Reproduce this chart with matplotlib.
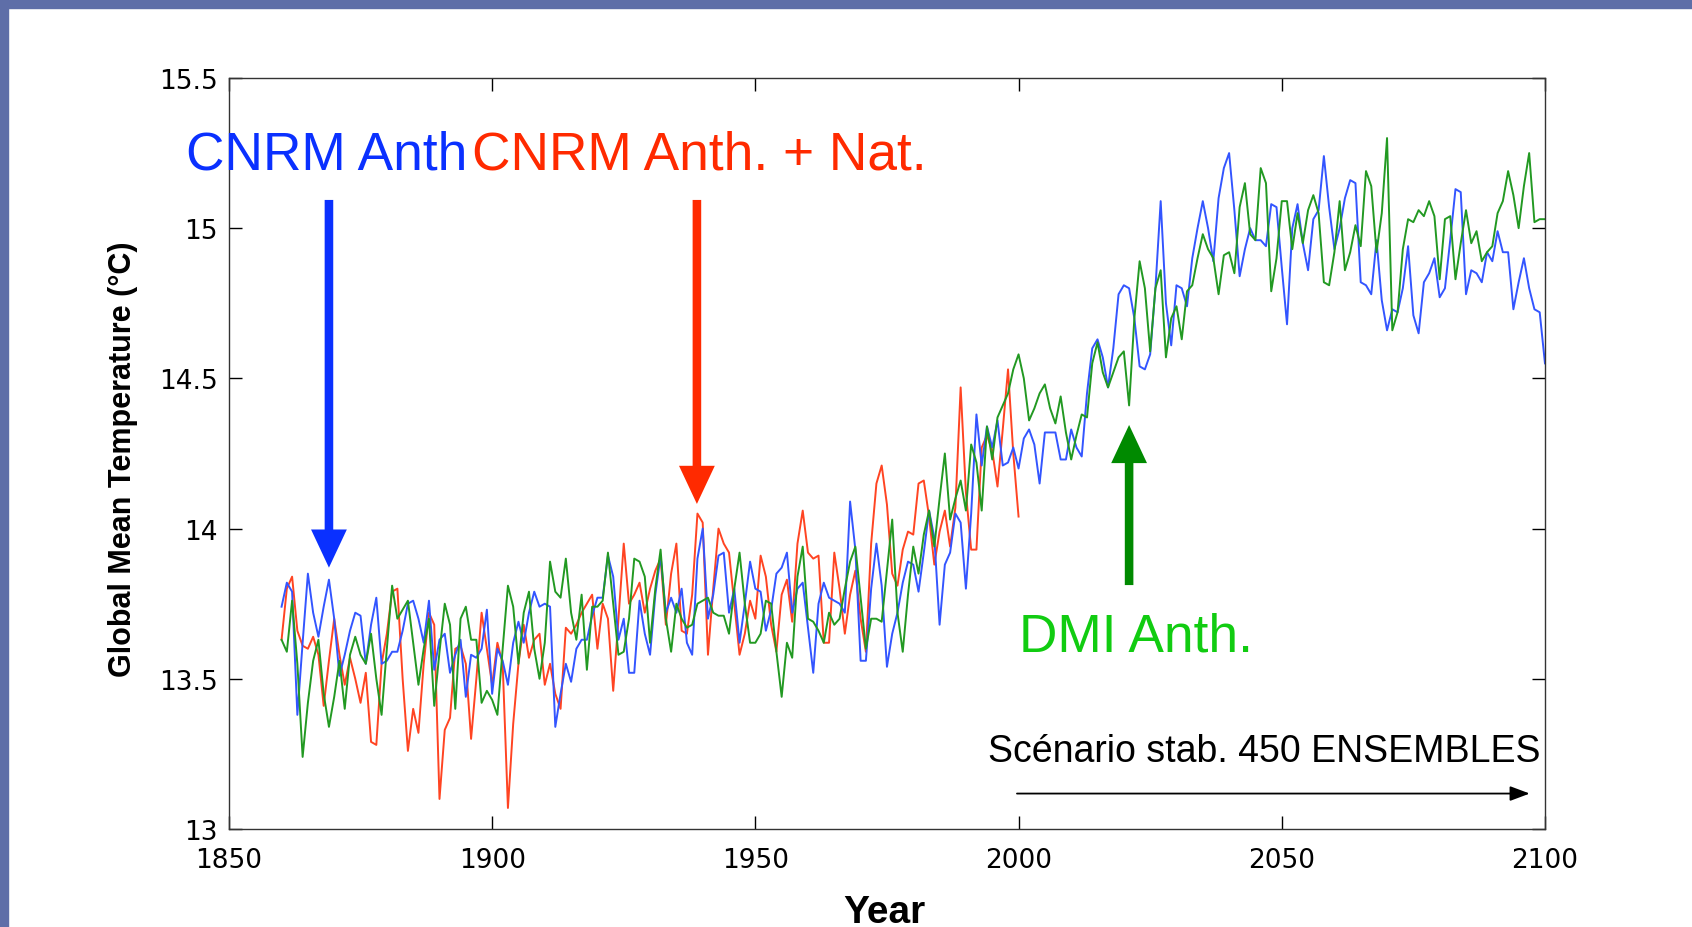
import numpy as np
import matplotlib.pyplot as plt
from matplotlib.patches import Rectangle

# Annual global mean temperature (deg C)
cnrm_anth = [
    13.74, 13.82, 13.79, 13.38, 13.62, 13.85, 13.72, 13.64, 13.74, 13.83,
    13.70, 13.51, 13.58, 13.66, 13.72, 13.71, 13.55, 13.68, 13.77, 13.55,
    13.56, 13.59, 13.59, 13.66, 13.75, 13.76, 13.70, 13.62, 13.76, 13.53,
    13.63, 13.65, 13.52, 13.58, 13.63, 13.44, 13.58, 13.57, 13.60, 13.73,
    13.45, 13.60, 13.56, 13.48, 13.62, 13.69, 13.62, 13.72, 13.79, 13.74,
    13.75, 13.74, 13.34, 13.45, 13.55, 13.49, 13.60, 13.63, 13.63, 13.71,
    13.77, 13.77, 13.91, 13.84, 13.63, 13.70, 13.52, 13.52, 13.76, 13.65,
    13.58, 13.78, 13.91, 13.72, 13.77, 13.72, 13.80, 13.62, 13.58, 13.90,
    14.00, 13.70, 13.78, 13.91, 13.92, 13.72, 13.80, 13.62, 13.75, 13.89,
    13.80, 13.79, 13.66, 13.73, 13.85, 13.87, 13.92, 13.72, 13.80, 13.82,
    13.67, 13.52, 13.75, 13.82, 13.77, 13.76, 13.75, 13.72, 14.09, 13.93,
    13.56, 13.56, 13.80, 13.95, 13.81, 13.54, 13.65, 13.72, 13.82, 13.89,
    13.88, 13.79, 13.92, 14.06, 13.97, 13.68, 13.88, 13.92, 14.05, 14.02,
    13.80, 14.05, 14.38, 14.21, 14.34, 14.27, 14.36, 14.21, 14.22, 14.27,
    14.20, 14.30, 14.33, 14.28, 14.15, 14.32, 14.32, 14.32, 14.23, 14.23,
    14.33, 14.27, 14.24, 14.45, 14.60, 14.63, 14.57, 14.47, 14.60, 14.78,
    14.81, 14.80, 14.70, 14.54, 14.53, 14.58, 14.80, 15.09, 14.75, 14.61,
    14.81, 14.80, 14.74, 14.90, 15.00, 15.09, 15.00, 14.89, 15.10, 15.20,
    15.25, 15.06, 14.84, 14.93, 15.00, 14.96, 14.96, 14.94, 15.08, 15.07,
    14.87, 14.68, 15.00, 15.08, 14.95, 14.86, 15.03, 15.06, 15.24, 15.07,
    14.93, 15.00, 15.10, 15.16, 15.15, 14.82, 14.81, 14.78, 14.96, 14.76,
    14.66, 14.73, 14.72, 14.80, 14.94, 14.71, 14.65, 14.82, 14.85, 14.90,
    14.77, 14.80, 14.96, 15.13, 15.12, 14.78, 14.86, 14.85, 14.82, 14.92,
    14.89, 14.99, 14.92, 14.92, 14.73, 14.82, 14.90, 14.80, 14.73, 14.72,
    14.55,
]

cnrm_anth_nat = [
    13.63, 13.80, 13.84, 13.66, 13.61, 13.60, 13.64, 13.58, 13.41, 13.56,
    13.70, 13.58, 13.48, 13.57, 13.50, 13.42, 13.52, 13.29, 13.28, 13.55,
    13.65, 13.79, 13.80, 13.50, 13.26, 13.40, 13.32, 13.55, 13.72, 13.68,
    13.10, 13.33, 13.37, 13.60, 13.61, 13.55, 13.30, 13.50, 13.72, 13.60,
    13.48, 13.62, 13.55, 13.07, 13.35, 13.55, 13.68, 13.57, 13.63, 13.65,
    13.48, 13.55, 13.45, 13.40, 13.67, 13.65, 13.68, 13.72, 13.75, 13.78,
    13.60, 13.75, 13.70, 13.46, 13.70, 13.95, 13.75, 13.78, 13.82, 13.72,
    13.80, 13.86, 13.90, 13.68, 13.85, 13.95, 13.66, 13.65, 13.78, 14.05,
    14.02, 13.58, 13.80, 14.00, 13.95, 13.92, 13.75, 13.58, 13.65, 13.76,
    13.70, 13.91, 13.84, 13.68, 13.59, 13.78, 13.83, 13.69, 13.95, 14.06,
    13.92, 13.90, 13.91, 13.62, 13.62, 13.92, 13.80, 13.65, 13.78, 13.86,
    13.70, 13.59, 13.95, 14.15, 14.21, 14.08, 13.85, 13.81, 13.93, 13.99,
    13.98, 14.15, 14.16, 14.04, 13.88, 13.99, 14.06, 13.94, 14.07, 14.47,
    14.12, 13.93, 13.93, 14.27, 14.31, 14.26, 14.14, 14.33, 14.53, 14.25,
    14.04,
]

dmi_anth = [
    13.63, 13.59, 13.76, 13.55, 13.24, 13.42, 13.56, 13.63, 13.45, 13.34,
    13.44, 13.56, 13.40, 13.58, 13.64, 13.58, 13.55, 13.65, 13.50, 13.38,
    13.60, 13.81, 13.70, 13.73, 13.76, 13.62, 13.48, 13.60, 13.70, 13.41,
    13.59, 13.75, 13.68, 13.40, 13.70, 13.74, 13.63, 13.63, 13.42, 13.46,
    13.43, 13.38, 13.60, 13.81, 13.74, 13.55, 13.72, 13.79, 13.60, 13.50,
    13.62, 13.89, 13.79, 13.77, 13.90, 13.72, 13.63, 13.78, 13.53, 13.74,
    13.74, 13.76, 13.92, 13.75, 13.58, 13.59, 13.70, 13.90, 13.89, 13.84,
    13.62, 13.80, 13.93, 13.70, 13.59, 13.75, 13.70, 13.67, 13.68, 13.75,
    13.76, 13.77, 13.72, 13.71, 13.71, 13.65, 13.80, 13.92, 13.75, 13.62,
    13.62, 13.65, 13.76, 13.75, 13.59, 13.44, 13.62, 13.57, 13.84, 13.94,
    13.70, 13.69, 13.66, 13.62, 13.72, 13.68, 13.70, 13.80, 13.89, 13.94,
    13.77, 13.60, 13.70, 13.70, 13.69, 13.86, 14.03, 13.72, 13.59, 13.78,
    13.94, 13.85, 13.98, 14.06, 13.94, 14.10, 14.25, 14.03, 14.10, 14.16,
    14.06, 14.28, 14.22, 14.06, 14.34, 14.23, 14.37, 14.41, 14.45, 14.53,
    14.58, 14.50, 14.36, 14.40, 14.45, 14.48, 14.40, 14.35, 14.44, 14.32,
    14.23, 14.31, 14.38, 14.37, 14.55, 14.62, 14.52, 14.47, 14.52, 14.57,
    14.59, 14.41, 14.70, 14.89, 14.80, 14.59, 14.80, 14.86, 14.57, 14.70,
    14.74, 14.63, 14.79, 14.81, 14.90, 14.98, 14.93, 14.90, 14.78, 14.91,
    14.92, 14.85, 15.07, 15.15, 14.98, 14.96, 15.20, 15.15, 14.79, 14.90,
    15.09, 15.09, 14.93, 15.05, 14.95, 15.06, 15.11, 15.05, 14.82, 14.81,
    14.92, 15.09, 14.86, 14.92, 15.01, 14.94, 15.19, 15.14, 14.92, 15.05,
    15.30, 14.66, 14.72, 14.93, 15.03, 15.02, 15.06, 15.04, 15.09, 15.04,
    14.83, 15.03, 15.04, 14.83, 14.95, 15.06, 14.95, 14.99, 14.89, 14.92,
    14.94, 15.05, 15.09, 15.19, 15.11, 15.00, 15.14, 15.25, 15.02, 15.03,
    15.03,
]

years_full = np.arange(1860, 1860 + len(cnrm_anth))
years_hist = np.arange(1860, 1860 + len(cnrm_anth_nat))

x_ticks = [1850, 1900, 1950, 2000, 2050, 2100]
y_ticks = [13, 13.5, 14, 14.5, 15, 15.5]
y_tick_labels = ['13', '13.5', '14', '14.5', '15', '15.5']

fig = plt.figure(figsize=(16.92, 9.28), dpi=100, facecolor='white')
ax = fig.add_axes([0.1353, 0.1056, 0.7778, 0.8093])

# slide frame (top and left bands)
frame_col = '#5E6EA8'
fig.patches.append(Rectangle((0, 1 - 9 / 928), 1, 9 / 928, transform=fig.transFigure,
                             color=frame_col, zorder=0))
fig.patches.append(Rectangle((0, 0), 8 / 1692, 1, transform=fig.transFigure,
                             color=frame_col, zorder=0))

ax.plot(years_hist, cnrm_anth_nat, color='#FF4422', lw=1.4)
ax.plot(years_full, cnrm_anth, color='#3355FF', lw=1.4)
ax.plot(years_full, dmi_anth, color='#229922', lw=1.4)

ax.set_xlim(1850, 2100)
ax.set_ylim(13, 15.5)
ax.set_xticks(x_ticks)
ax.set_yticks(y_ticks)
ax.set_yticklabels(y_tick_labels)
ax.tick_params(direction='in', length=9.5, width=1, top=True, right=True,
               labelsize=19)
ax.tick_params(axis='x', pad=13)
ax.tick_params(axis='y', pad=8)
for lab in ax.get_xticklabels() + ax.get_yticklabels():
    lab.set_family('DejaVu Sans')
for sp in ax.spines.values():
    sp.set_linewidth(1)
    sp.set_color('#333333')

ax.set_ylabel('Global Mean Temperature (°C)', family='Liberation Sans',
              fontweight='bold', fontsize=22)
ax.yaxis.set_label_coords(-0.069, 0.494)
ax.set_xlabel('Year', family='Liberation Sans', fontweight='bold', fontsize=28)
ax.xaxis.set_label_coords(0.498, -0.087)

# labels for the runs
ax.text(1841.8, 15.20, 'CNRM Anth', color='#0A30FF', fontsize=38.3,
        family='Liberation Sans', va='baseline', clip_on=False)
ax.text(1896.2, 15.20, 'CNRM Anth. + Nat.', color='#FF2A00', fontsize=38.3,
        family='Liberation Sans', va='baseline')
ax.text(2000.0, 13.593, 'DMI Anth.', color='#11CC11', fontsize=38.3,
        family='Liberation Sans', va='baseline')

# pointing arrows
ax.arrow(1869.0, 15.094, 0, 13.87 - 15.094, width=1.63, head_width=6.8,
         head_length=0.127, length_includes_head=True, color='#0A30FF', lw=0)
ax.arrow(1938.9, 15.094, 0, 14.082 - 15.094, width=1.63, head_width=6.8,
         head_length=0.127, length_includes_head=True, color='#FF2A00', lw=0)
ax.arrow(2021.0, 13.812, 0, 14.345 - 13.812, width=1.63, head_width=6.8,
         head_length=0.127, length_includes_head=True, color='#008A00', lw=0)

# scenario annotation
ax.text(2099.2, 13.226, 'Scénario stab. 450 ENSEMBLES', fontsize=27,
        family='Liberation Sans', ha='right', va='baseline')
ax.annotate('', xy=(2097.1, 13.118), xytext=(1999.7, 13.118),
            arrowprops=dict(arrowstyle='-|>,head_length=1.2,head_width=0.45',
                            color='black', lw=1.3, shrinkA=0, shrinkB=0))

fig.savefig('out.png', dpi=100, facecolor='white')
